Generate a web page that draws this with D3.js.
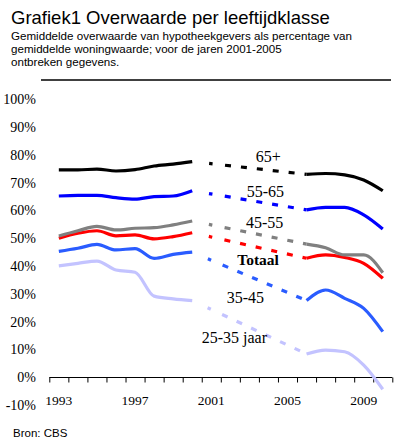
<!DOCTYPE html>
<html><head><meta charset="utf-8">
<script src="https://cdn.jsdelivr.net/npm/d3@7/dist/d3.min.js"></script>
<style>body{margin:0;background:#fff;overflow:hidden}svg{display:block}</style>
</head><body><div id="chart"></div>
<script>
const years = [1993,1994,1995,1996,1997,1998,1999,2000,2001,2002,2003,2004,2005,2006,2007,2008,2009,2010];
const yearLabels = [1993,1997,2001,2005,2009];
const yTicks = [-10,0,10,20,30,40,50,60,70,80,90,100];
const seriesNames = ["25-35 jaar","35-45","Totaal","45-55","55-65","65+"];
const s2535  = [40.0,40.9,41.7,38.5,37.7,29.1,28.1,27.5,null,null,null,null,null, 8.3, 9.7, 9.1, 4.3,-4.4];
const s3545  = [45.2,46.3,47.7,45.7,46.2,42.7,44.1,44.9,null,null,null,null,null,27.5,31.3,28.3,24.7,16.3];
const totaal = [49.9,51.7,52.6,50.8,51.1,49.7,50.5,51.9,null,null,null,null,null,42.7,43.9,43.0,40.9,35.5];
const s4555  = [50.7,52.6,54.2,52.9,53.5,53.7,54.7,56.1,null,null,null,null,null,47.8,46.5,43.9,43.9,37.5];
const s5565  = [65.1,65.3,65.3,64.5,64.0,64.9,65.1,67.0,null,null,null,null,null,60.1,61.0,61.0,58.3,53.2];
const s65    = [74.5,74.5,74.8,74.1,74.6,75.9,76.6,77.5,null,null,null,null,null,72.9,73.2,72.7,70.9,67.0];

const seriesValues = [s2535, s3545, totaal, s4555, s5565, s65];
const colors = ["#c3c3ff","#2a5cff","#ff0000","#808080","#0000ff","#000000"];

const W = 400, H = 446;
const svg = d3.select("#chart").append("svg").attr("width", W).attr("height", H);

// Title block
svg.append("text").attr("x", 11).attr("y", 23.5)
  .style("font-family","'Liberation Sans', Arial, sans-serif").style("font-size","18.5px")
  .text("Grafiek1 Overwaarde per leeftijdklasse");
const sub = ["Gemiddelde overwaarde van hypotheekgevers als percentage van",
             "gemiddelde woningwaarde; voor de jaren 2001-2005",
             "ontbreken gegevens."];
svg.append("g").selectAll("text").data(sub).join("text")
  .attr("x", 11).attr("y", (d,i) => 40 + i*12.8)
  .style("font-family","'Liberation Sans', Arial, sans-serif").style("font-size","11.6px")
  .text(d => d);
svg.append("line").attr("x1", 41).attr("x2", 391).attr("y1", 80).attr("y2", 80)
  .attr("stroke", "#000").attr("stroke-width", 1.5);

// Scales
const x = d3.scaleLinear().domain([1992.5, 2010.5]).range([49.3, 392.3]);
const y = d3.scaleLinear().domain([0, 100]).range([377, 99]);

// Y axis labels
const yAxis = d3.axisLeft(y).tickValues(yTicks).tickSize(0).tickPadding(3).tickFormat(d => d + "%");
const gy = svg.append("g").attr("transform", "translate(39,0)").call(yAxis);
gy.select(".domain").remove();
gy.selectAll("text").style("font-family","'Liberation Serif', 'Times New Roman', serif")
  .style("font-size","14px").attr("fill","#000").attr("dy","0.33em");

// X axis
const xAxis = d3.axisBottom(x).tickValues(years.map(v => v - 0.5).concat([2010.5]))
  .tickSize(5).tickSizeOuter(0).tickFormat("");
const gx = svg.append("g").attr("transform", `translate(0,${y(0)})`).call(xAxis);
gx.select(".domain").attr("stroke","#000").attr("d", `M${x(1992.5)},0.5H${x(2010.5)}`);
gx.selectAll(".tick line").attr("stroke","#000").attr("transform","translate(0,0.5)");
svg.append("g").selectAll("text").data(yearLabels).join("text")
  .attr("x", d => x(d)).attr("y", 405).attr("text-anchor","middle")
  .style("font-family","'Liberation Serif', 'Times New Roman', serif").style("font-size","13.5px")
  .text(d => d);

// Lines
const line = d3.line().defined(d => d.v !== null).x(d => x(d.year)).y(d => y(d.v))
  .curve(d3.curveMonotoneX);
const dashLine = d3.line().x(d => x(d.year)).y(d => y(d.v));

const gLines = svg.append("g");
seriesValues.forEach((vals, i) => {
  const pts = years.map((yr, j) => ({year: yr, v: vals[j]}));
  const gapPts = [];
  for (let j = 1; j < pts.length; j++) {
    if (pts[j].v === null && pts[j-1].v !== null) {
      let k = j; while (k < pts.length && pts[k].v === null) k++;
      if (k < pts.length) gapPts.push([pts[j-1], pts[k]]);
    }
  }
  gapPts.forEach(seg => {
    gLines.append("path").attr("d", dashLine(seg)).attr("fill","none")
      .attr("stroke", colors[i]).attr("stroke-width", 3.2)
      .attr("stroke-dasharray", "0,17,3.5,12.5,6,10,6,10,6,10,6,10,6,10,6,40");
  });
  gLines.append("path").attr("d", line(pts)).attr("fill","none")
    .attr("stroke", colors[i]).attr("stroke-width", 3.2).attr("stroke-linejoin","round");
});

// Series labels
const labelStyle = (sel, bold, size) => sel.style("font-family","'Liberation Serif', 'Times New Roman', serif")
  .style("font-size", size).style("font-weight", bold ? "bold" : "normal");
const labels = [
  {t: seriesNames[5], x: 255.7, y: 161.7, b: false},
  {t: seriesNames[4], x: 246.7, y: 197.3, b: false},
  {t: seriesNames[3], x: 246,   y: 228.3, b: false},
  {t: seriesNames[2], x: 237.3, y: 264.5, b: true},
  {t: seriesNames[1], x: 226.7, y: 303.3, b: false},
  {t: seriesNames[0], x: 201.7, y: 343.3, b: false}
];
labels.forEach(l => {
  svg.append("text").attr("x", l.x).attr("y", l.y).text(l.t)
    .call(labelStyle, l.b, l.b ? "15.5px" : "16px");
});

svg.append("text").attr("x", 13).attr("y", 436.5)
  .style("font-family","'Liberation Sans', Arial, sans-serif").style("font-size","11.5px")
  .text("Bron: CBS");
</script></body></html>
